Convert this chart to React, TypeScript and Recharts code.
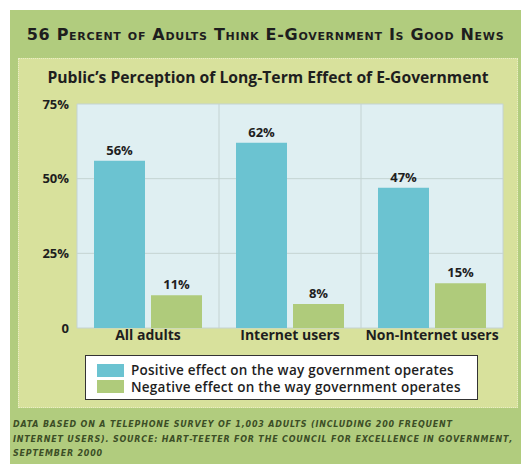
import { BarChart, Bar, XAxis, YAxis, CartesianGrid, Legend, LabelList } from "recharts"

// survey groups and shares (percent)
const groups = ["All adults", "Internet users", "Non-Internet users"]
const positive = [56, 62, 47]
const negative = [11, 8, 15]
const yTicks = [0, 25, 50, 75]
const seriesOrder = ["positive", "negative"]

const COLOURS = {
  outer: "#b1cc7e",
  panel: "#d8e19c",
  plot: "#dfeff2",
  grid: "#c4d3d2",
  positive: "#6bc3d1",
  negative: "#afcb7b",
  text: "#1e1e1e",
}

const data = groups.map((g, i) => ({ group: g, positive: positive[i], negative: negative[i] }))

const SERIES_NAMES: Record<string, string> = {
  positive: "Positive effect on the way government operates",
  negative: "Negative effect on the way government operates",
}

const FONT = "'Open Sans', Lato, sans-serif"

function LegendBox(props: any) {
  const items = [...(props.payload || [])].sort(
    (a: any, b: any) => seriesOrder.indexOf(a.dataKey) - seriesOrder.indexOf(b.dataKey)
  )
  return (
    <div
      style={{
        background: "#fff",
        border: "1.5px solid #333",
        padding: "6px 10px 3px 11px",
        fontFamily: FONT,
        fontSize: 13.5,
        fontWeight: 600,
        letterSpacing: 0.25,
        color: COLOURS.text,
        lineHeight: "16.5px",
        boxSizing: "border-box",
        width: 393,
        height: 45,
      }}
    >
      {items.map((it: any) => (
        <div key={it.dataKey} style={{ display: "flex", alignItems: "center", whiteSpace: "nowrap" }}>
          <span style={{ width: 27, height: 13, background: it.color, marginRight: 7, display: "inline-block", flex: "none" }} />
          <span>{SERIES_NAMES[it.dataKey] ?? it.value}</span>
        </div>
      ))}
    </div>
  )
}

export default function App() {
  return (
    <div style={{ position: "absolute", left: 0, top: 0, width: 521, height: 464, background: "#fff", fontFamily: FONT }}>
      {/* outer green card */}
      <div style={{ position: "absolute", left: 10, top: 10, width: 511, height: 454, background: COLOURS.outer }} />
      <div
        style={{
          position: "absolute",
          left: 10,
          top: 25,
          width: 511,
          textAlign: "center",
          fontWeight: 700,
          fontSize: 16,
          letterSpacing: 0.7,
          fontFamily: "'DejaVu Sans', sans-serif",
          fontVariant: "small-caps",
          color: COLOURS.text,
          whiteSpace: "nowrap",
        }}
      >
        56 Percent of Adults Think E-Government Is Good News
      </div>

      {/* inner panel */}
      <div
        style={{
          position: "absolute",
          left: 18,
          top: 58,
          width: 500,
          height: 350,
          background: COLOURS.panel,
          border: "1px dotted #e9eec6",
          boxSizing: "border-box",
        }}
      />
      <div
        style={{
          position: "absolute",
          left: 18,
          top: 66,
          width: 500,
          textAlign: "center",
          fontWeight: 700,
          fontSize: 15.7,
          color: COLOURS.text,
          whiteSpace: "nowrap",
        }}
      >
        Public’s Perception of Long-Term Effect of E-Government
      </div>

      <div style={{ position: "absolute", left: 0, top: 0 }}>
        <BarChart
          width={521}
          height={464}
          data={data}
          margin={{ top: 104, right: 18, left: 17, bottom: 106 }}
          barSize={51}
          barGap={6}
        >
          <CartesianGrid
            fill={COLOURS.plot}
            stroke={COLOURS.grid}
            strokeWidth={1}
            verticalCoordinatesGenerator={({ offset }: any) => [
              offset.left,
              offset.left + offset.width / 3,
              offset.left + (2 * offset.width) / 3,
              offset.left + offset.width,
            ]}
          />
          <XAxis
            dataKey="group"
            axisLine={false}
            tickLine={false}
            tickSize={0}
            tickMargin={2}
            height={30}
            tick={{ fontSize: 14, fontWeight: 700, fill: COLOURS.text, fontFamily: FONT }}
          />
          <YAxis
            domain={[0, 75]}
            ticks={yTicks}
            axisLine={false}
            tickLine={false}
            tickSize={0}
            tickMargin={8}
            width={60}
            tickFormatter={(v: number) => (v === 0 ? "0" : `${v}%`)}
            tick={{ fontSize: 13, fontWeight: 700, fill: COLOURS.text, fontFamily: FONT }}
          />
          <Legend
            layout="vertical"
            align="center"
            verticalAlign="middle"
            content={LegendBox}
            wrapperStyle={{ position: "absolute", left: 85, top: 355, width: 393, height: 45 }}
          />
          <Bar dataKey="positive" fill={COLOURS.positive} isAnimationActive={false}>
            <LabelList
              dataKey="positive"
              position="top"
              offset={6}
              formatter={(v: any) => `${v}%`}
              style={{ fontSize: 13, fontWeight: 700, fill: COLOURS.text, fontFamily: FONT }}
            />
          </Bar>
          <Bar dataKey="negative" fill={COLOURS.negative} isAnimationActive={false}>
            <LabelList
              dataKey="negative"
              position="top"
              offset={6}
              formatter={(v: any) => `${v}%`}
              style={{ fontSize: 13, fontWeight: 700, fill: COLOURS.text, fontFamily: FONT }}
            />
          </Bar>
        </BarChart>
      </div>

      {/* source note */}
      <div
        style={{
          position: "absolute",
          left: 13,
          top: 416,
          width: 505,
          fontSize: 12,
          lineHeight: "14.5px",
          letterSpacing: 0.8,
          fontFamily: "'DejaVu Sans', sans-serif",
          fontStyle: "italic",
          fontWeight: 700,
          fontVariant: "all-small-caps",
          color: "#3c4e26",
          whiteSpace: "nowrap",
        }}
      >
        <div>Data based on a telephone survey of 1,003 adults (including 200 frequent</div>
        <div>internet users). Source: Hart-Teeter for the Council for Excellence in Government,</div>
        <div>September 2000</div>
      </div>
    </div>
  )
}
